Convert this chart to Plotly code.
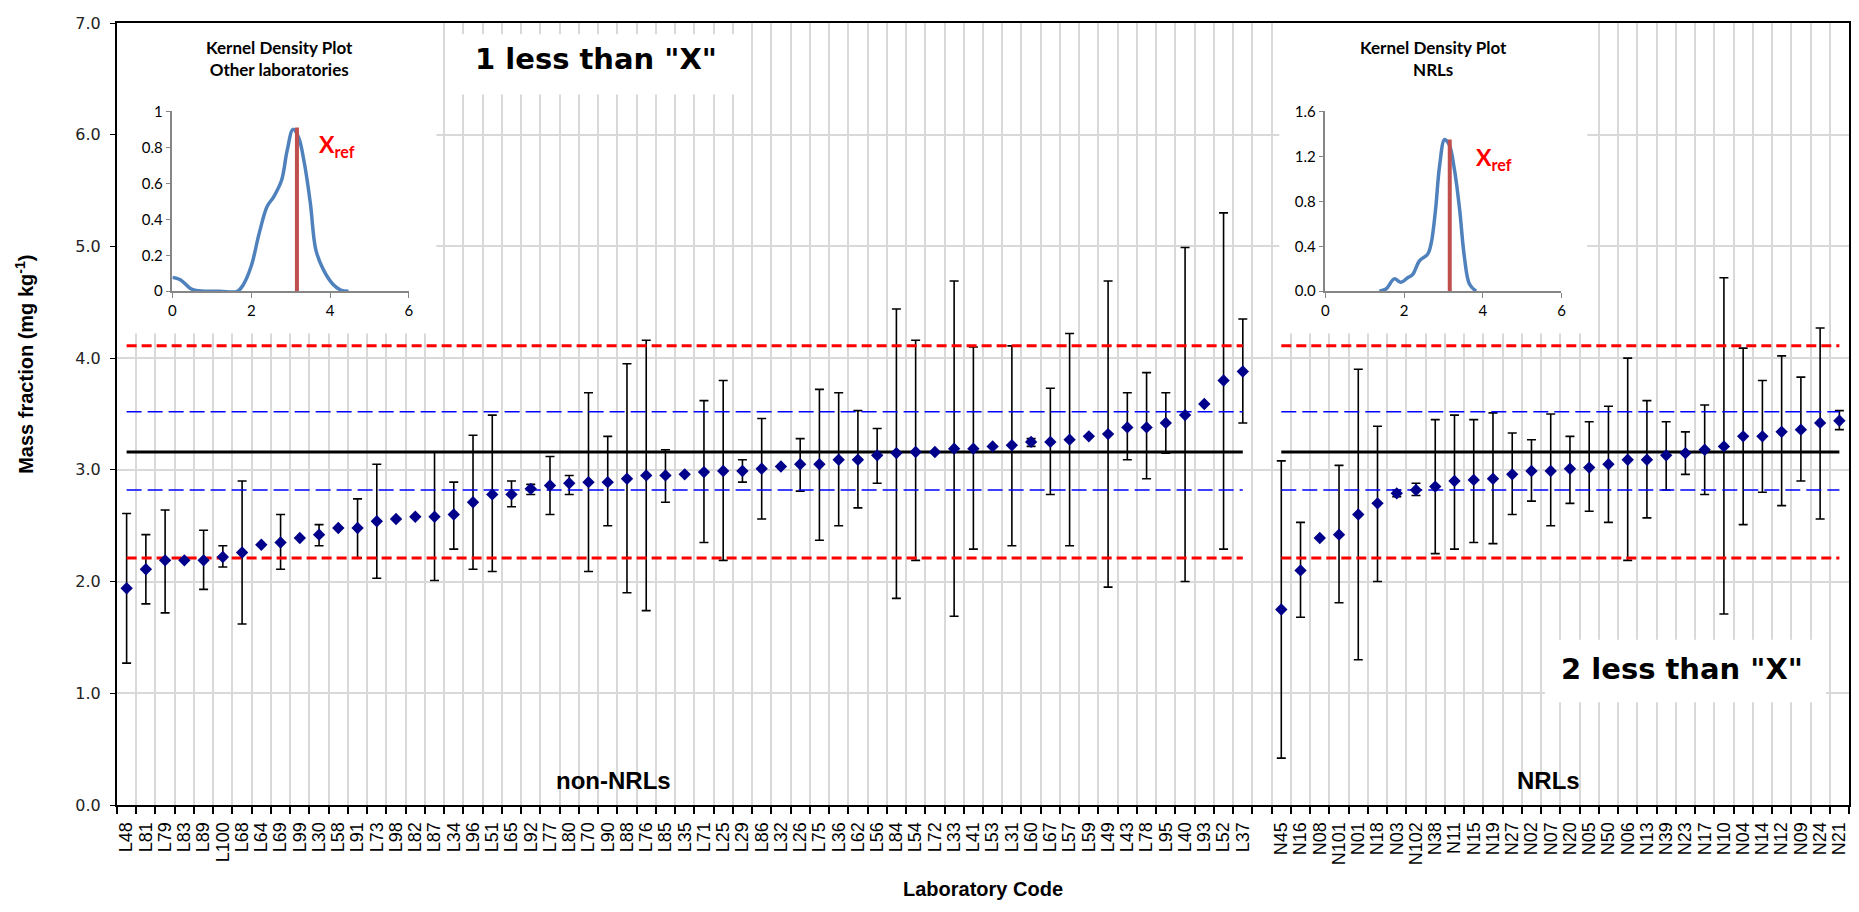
import plotly.graph_objects as go

# ---------------- data ----------------
nonnrl_labels = ["L48", "L81", "L79", "L83", "L89", "L100", "L68", "L64", "L69", "L99",
                 "L30", "L58", "L91", "L73", "L98", "L82", "L87", "L34", "L96", "L51",
                 "L65", "L92", "L77", "L80", "L70", "L90", "L88", "L76", "L85", "L35",
                 "L71", "L25", "L29", "L86", "L32", "L26", "L75", "L36", "L62", "L56",
                 "L84", "L54", "L72", "L33", "L41", "L53", "L31", "L60", "L67", "L57",
                 "L59", "L49", "L43", "L78", "L95", "L40", "L93", "L52", "L37"]
nonnrl_values = [1.94, 2.11, 2.19, 2.19, 2.19, 2.22, 2.26, 2.33, 2.35, 2.39,
                 2.42, 2.48, 2.48, 2.54, 2.56, 2.58, 2.58, 2.60, 2.71, 2.78,
                 2.78, 2.83, 2.86, 2.88, 2.89, 2.89, 2.92, 2.95, 2.95, 2.96,
                 2.98, 2.99, 2.99, 3.01, 3.03, 3.05, 3.05, 3.09, 3.09, 3.13,
                 3.15, 3.16, 3.16, 3.19, 3.19, 3.21, 3.22, 3.25, 3.25, 3.27,
                 3.30, 3.32, 3.38, 3.38, 3.42, 3.49, 3.59, 3.80, 3.88]
nonnrl_upper = [2.61, 2.42, 2.64, None, 2.46, 2.32, 2.90, None, 2.60, None,
                2.51, None, 2.74, 3.05, None, None, 3.16, 2.89, 3.31, 3.49,
                2.90, 2.87, 3.12, 2.95, 3.69, 3.30, 3.95, 4.16, 3.18, None,
                3.62, 3.80, 3.09, 3.46, None, 3.28, 3.72, 3.69, 3.53, 3.37,
                4.44, 4.16, None, 4.69, 4.10, None, 4.11, 3.28, 3.73, 4.22,
                None, 4.69, 3.69, 3.87, 3.69, 4.99, None, 5.30, 4.35]
nonnrl_lower = [1.27, 1.80, 1.72, None, 1.93, 2.13, 1.62, None, 2.11, None,
                2.32, None, 2.21, 2.03, None, None, 2.01, 2.29, 2.11, 2.09,
                2.67, 2.78, 2.60, 2.78, 2.09, 2.50, 1.90, 1.74, 2.71, None,
                2.35, 2.19, 2.89, 2.56, None, 2.81, 2.37, 2.50, 2.66, 2.88,
                1.85, 2.19, None, 1.69, 2.29, None, 2.32, 3.21, 2.78, 2.32,
                None, 1.95, 3.09, 2.92, 3.15, 2.00, None, 2.29, 3.42]

nrl_labels = ["N45", "N16", "N08", "N101", "N01", "N18", "N03", "N102", "N38", "N11",
              "N15", "N19", "N27", "N02", "N07", "N20", "N05", "N50", "N06", "N13",
              "N39", "N23", "N17", "N10", "N04", "N14", "N12", "N09", "N24", "N21"]
nrl_values = [1.75, 2.10, 2.39, 2.42, 2.60, 2.70, 2.79, 2.82, 2.85, 2.90,
              2.91, 2.92, 2.96, 2.99, 2.99, 3.01, 3.02, 3.05, 3.09, 3.09,
              3.13, 3.15, 3.18, 3.21, 3.30, 3.30, 3.34, 3.36, 3.42, 3.44]
nrl_upper = [3.08, 2.53, None, 3.04, 3.90, 3.39, 2.82, 2.88, 3.45, 3.49,
             3.45, 3.51, 3.33, 3.27, 3.50, 3.30, 3.43, 3.57, 4.00, 3.62,
             3.43, 3.34, 3.58, 4.72, 4.09, 3.80, 4.02, 3.83, 4.27, 3.53]
nrl_lower = [0.42, 1.68, None, 1.81, 1.30, 2.00, 2.76, 2.77, 2.25, 2.29,
             2.35, 2.34, 2.60, 2.72, 2.50, 2.70, 2.63, 2.53, 2.19, 2.57,
             2.82, 2.96, 2.78, 1.71, 2.51, 2.80, 2.68, 2.90, 2.56, 3.36]

x_ref = 3.16
blue_limits = [2.82, 3.52]
red_limits = [2.21, 4.11]

kde_other_x = [0.0, 0.2, 0.5, 0.8, 1.2, 1.65, 1.8, 2.0, 2.2, 2.4, 2.57, 2.77, 2.91,
               3.06, 3.2, 3.35, 3.5, 3.64, 3.83, 4.08, 4.27, 4.47]
kde_other_y = [0.077, 0.064, 0.01, 0.0, 0.0, 0.0, 0.037, 0.14, 0.32, 0.47, 0.525, 0.617,
               0.78, 0.90, 0.856, 0.71, 0.49, 0.23, 0.12, 0.037, 0.006, 0.0]
kde_other_peak = 0.91

kde_nrl_x = [1.37, 1.54, 1.75, 1.92, 2.09, 2.22, 2.39, 2.6, 2.69, 2.8, 2.9, 3.03,
             3.15, 3.28, 3.41, 3.53, 3.66, 3.83]
kde_nrl_y = [0.0, 0.02, 0.11, 0.08, 0.12, 0.15, 0.27, 0.33, 0.43, 0.73, 1.11, 1.35,
             1.30, 1.08, 0.73, 0.31, 0.065, 0.0]
kde_nrl_peak = 1.35

# ---------------- build ----------------
n_left = len(nonnrl_labels)
x_left = list(range(n_left))
x_right = [n_left + 1 + i for i in range(len(nrl_labels))]
all_x = x_left + x_right
all_labels = nonnrl_labels + nrl_labels
all_vals = nonnrl_values + nrl_values
all_up = nonnrl_upper + nrl_upper
all_lo = nonnrl_lower + nrl_lower

eb_x, eb_y, eb_plus, eb_minus = [], [], [], []
for xx, v, u, lo in zip(all_x, all_vals, all_up, all_lo):
    if u is not None:
        eb_x.append(xx)
        eb_y.append(v)
        eb_plus.append(u - v)
        eb_minus.append(v - lo)

fig = go.Figure()

fig.add_trace(go.Scatter(
    x=eb_x, y=eb_y, mode="markers", marker=dict(size=2, opacity=0),
    error_y=dict(type="data", symmetric=False, array=eb_plus, arrayminus=eb_minus,
                 color="black", thickness=1.6, width=4.5),
    hoverinfo="skip", showlegend=False))


def seg(v):
    return ([x_left[0], x_left[-1], None, x_right[0], x_right[-1]], [v, v, None, v, v])


for v in red_limits:
    sx, sy = seg(v)
    fig.add_trace(go.Scatter(x=sx, y=sy, mode="lines", showlegend=False, hoverinfo="skip",
                             line=dict(color="#FF0000", width=3, dash="10px,5px")))
for v in blue_limits:
    sx, sy = seg(v)
    fig.add_trace(go.Scatter(x=sx, y=sy, mode="lines", showlegend=False, hoverinfo="skip",
                             line=dict(color="#0000FF", width=1.5, dash="15px,6px")))
sx, sy = seg(x_ref)
fig.add_trace(go.Scatter(x=sx, y=sy, mode="lines", showlegend=False, hoverinfo="skip",
                         line=dict(color="black", width=3)))

fig.add_trace(go.Scatter(x=all_x, y=all_vals, mode="markers", showlegend=False,
                         marker=dict(symbol="diamond", size=9.5, color="#00008B")))

# insets
fig.add_trace(go.Scatter(x=kde_other_x, y=kde_other_y, mode="lines", xaxis="x2", yaxis="y2",
                         line=dict(color="#4F81BD", width=3.5, shape="spline"), showlegend=False))
fig.add_trace(go.Scatter(x=[x_ref, x_ref], y=[0, kde_other_peak], mode="lines", xaxis="x2", yaxis="y2",
                         line=dict(color="#C0504D", width=4), showlegend=False))
fig.add_trace(go.Scatter(x=kde_nrl_x, y=kde_nrl_y, mode="lines", xaxis="x3", yaxis="y3",
                         line=dict(color="#4F81BD", width=3.5, shape="spline"), showlegend=False))
fig.add_trace(go.Scatter(x=[x_ref, x_ref], y=[0, kde_nrl_peak], mode="lines", xaxis="x3", yaxis="y3",
                         line=dict(color="#C0504D", width=4), showlegend=False))

white_boxes = [(-0.5, 16.1, 4.22, 7.0), (16.7, 32.3, 6.36, 6.9),
               (59.9, 75.9, 4.22, 7.0), (73.7, 88.3, 0.92, 1.48)]
shapes = []
for x0, x1, y0, y1 in white_boxes:
    shapes.append(dict(type="rect", xref="x", yref="y", x0=x0, x1=x1, y0=y0, y1=y1,
                       fillcolor="white", line=dict(width=0), layer="between"))

inset_axis = dict(showline=True, linecolor="#868686", linewidth=1.5, ticks="outside",
                  ticklen=5, tickcolor="#868686", showgrid=False, zeroline=False,
                  tickfont=dict(family="Lato", size=15, color="black"))

annotations = [
    dict(xref="paper", yref="paper", x=0.0936, y=0.9542, xanchor="center", yanchor="middle",
         showarrow=False, text="<b>Kernel Density Plot<br>Other laboratories</b>",
         font=dict(family="Lato", size=17, color="black")),
    dict(xref="paper", yref="paper", x=0.7599, y=0.9542, xanchor="center", yanchor="middle",
         showarrow=False, text="<b>Kernel Density Plot<br>NRLs</b>",
         font=dict(family="Lato", size=17, color="black")),
    dict(xref="x2", yref="y2", x=3.67, y=0.81, xanchor="left", yanchor="middle", showarrow=False,
         text="<b>X<sub>ref</sub></b>", font=dict(family="Lato", size=23, color="#FF0000")),
    dict(xref="x3", yref="y3", x=3.78, y=1.18, xanchor="left", yanchor="middle", showarrow=False,
         text="<b>X<sub>ref</sub></b>", font=dict(family="Lato", size=23, color="#FF0000")),
    dict(xref="x", yref="y", x=24.4, y=6.68, xanchor="center", yanchor="middle", showarrow=False,
         text="<b>1 less than \"X\"</b>", font=dict(family="DejaVu Sans", size=29, color="black")),
    dict(xref="x", yref="y", x=80.8, y=1.218, xanchor="center", yanchor="middle", showarrow=False,
         text="<b>2 less than \"X\"</b>", font=dict(family="DejaVu Sans", size=29, color="black")),
    dict(xref="x", yref="y", x=25.3, y=0.222, xanchor="center", yanchor="middle", showarrow=False,
         text="<b>non-NRLs</b>", font=dict(family="Liberation Sans", size=24, color="black")),
    dict(xref="x", yref="y", x=73.9, y=0.222, xanchor="center", yanchor="middle", showarrow=False,
         text="<b>NRLs</b>", font=dict(family="Liberation Sans", size=24, color="black")),
    dict(xref="paper", yref="paper", x=-0.0532, y=0.564, xanchor="center", yanchor="middle",
         showarrow=False, textangle=-90,
         text="<b>Mass fraction (mg kg<sup>-1</sup>)</b>",
         font=dict(family="Liberation Sans", size=20, color="black")),
    dict(xref="paper", yref="paper", x=0.5, y=-0.108, xanchor="center", yanchor="middle",
         showarrow=False, text="<b>Laboratory Code</b>",
         font=dict(family="Liberation Sans", size=20, color="black")),
]

fig.update_layout(
    width=1851, height=904,
    margin=dict(l=109, r=5, t=10, b=107),
    paper_bgcolor="white", plot_bgcolor="white",
    showlegend=False,
    shapes=shapes,
    annotations=annotations,
    xaxis=dict(range=[-0.5, 89.5], tickmode="array", tickvals=all_x, ticktext=all_labels,
               tickangle=-90, ticks="", showgrid=False, zeroline=False,
               showline=True, linecolor="black", linewidth=2, mirror=True,
               tickfont=dict(family="Liberation Sans", size=18, color="black"),
               ticklabelstandoff=8,
               minor=dict(tickmode="linear", tick0=-0.5, dtick=1, ticks="outside", ticklen=7,
                          tickcolor="black", tickwidth=1.5, showgrid=True,
                          gridcolor="#D9D9D9", gridwidth=1.5)),
    yaxis=dict(range=[0, 7], tick0=0, dtick=1, tickformat=".1f", ticks="outside", ticklen=5,
               tickcolor="black", showgrid=True, gridcolor="#D9D9D9", gridwidth=1.5,
               showline=True, linecolor="black", linewidth=2, mirror=True, zeroline=False,
               tickfont=dict(family="DejaVu Sans", size=16, color="#222"),
               ticklabelstandoff=6),
    xaxis2=dict(domain=[0.032, 0.1685], anchor="y2", range=[0, 6], tick0=0, dtick=2, **inset_axis),
    yaxis2=dict(domain=[0.657, 0.887], anchor="x2", range=[0, 1], tick0=0, dtick=0.2, **inset_axis),
    xaxis3=dict(domain=[0.6977, 0.834], anchor="y3", range=[0, 6], tick0=0, dtick=2, **inset_axis),
    yaxis3=dict(domain=[0.657, 0.887], anchor="x3", range=[0, 1.6], tick0=0, dtick=0.4,
                tickformat=".1f", **inset_axis),
)

fig.write_html("out.html")
